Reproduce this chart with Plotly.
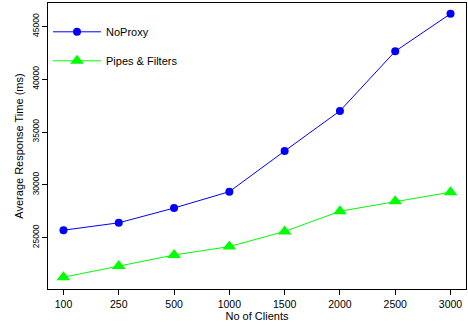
import plotly.graph_objects as go

clients = ["100", "250", "500", "1000", "1500", "2000", "2500", "3000"]
noproxy = [25700, 26400, 27800, 29350, 33200, 37000, 42650, 46200]
pipes = [21250, 22300, 23350, 24150, 25580, 27500, 28430, 29300]
ytick_vals = [25000, 30000, 35000, 40000, 45000]

xpos = list(range(1, len(clients) + 1))

fig = go.Figure()
fig.add_trace(go.Scatter(
    x=xpos, y=noproxy, mode="lines+markers", name="NoProxy",
    line=dict(color="#0000ff", width=1),
    marker=dict(symbol="circle", size=8, color="#0000ff"),
    legendgroup="a",
))
fig.add_trace(go.Scatter(
    x=xpos, y=pipes, mode="lines+markers", name="Pipes & Filters",
    line=dict(color="#00ff00", width=1),
    marker=dict(symbol="triangle-up", size=12, color="#00ff00"),
    legendgroup="b",
))

font = "Liberation Sans, Arial, sans-serif"
fig.update_layout(
    width=468, height=326,
    margin=dict(l=48, r=2, t=3, b=37),
    paper_bgcolor="white", plot_bgcolor="white",
    font=dict(family=font, color="black", size=11),
    showlegend=True,
    legend=dict(x=0.0, y=0.95, xanchor="left", yanchor="top",
                bgcolor="rgba(0,0,0,0)", font=dict(size=11),
                itemwidth=48, traceorder="grouped", tracegroupgap=10),
    xaxis=dict(
        range=[0.72, 8.28], tickmode="array", tickvals=xpos, ticktext=clients,
        showgrid=False, zeroline=False, showline=True, mirror=True,
        linecolor="black", linewidth=1, ticks="outside", ticklen=5,
        tickcolor="black", tickfont=dict(size=10.5),
        title=dict(text="No of Clients", font=dict(size=11), standoff=2),
    ),
    yaxis=dict(
        range=[20130, 47220], tickmode="array", tickvals=ytick_vals,
        ticktext=[str(v) for v in ytick_vals], tickangle=-90,
        showgrid=False, zeroline=False, showline=True, mirror=True,
        linecolor="black", linewidth=1, ticks="outside", ticklen=5,
        tickcolor="black", tickfont=dict(size=8.5),
        title=dict(text="Average Response Time (ms)", font=dict(size=11), standoff=4),
    ),
)

fig.write_html("out.html")
